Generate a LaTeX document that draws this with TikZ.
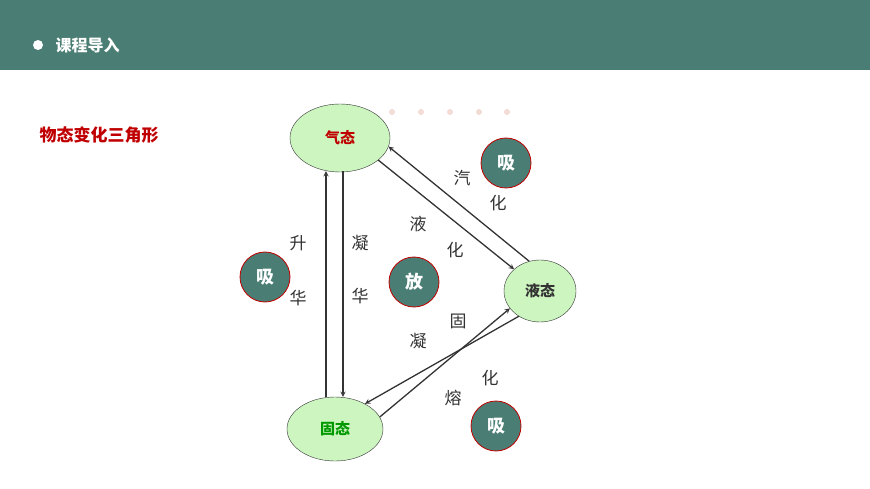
\documentclass[tikz,border=0pt]{standalone}
\usepackage{fontspec}
\setmainfont{Noto Sans CJK SC}
\newfontfamily\cjkbold[BoldFont=*]{Noto Sans CJK SC Bold}
\usetikzlibrary{shapes.geometric}
\definecolor{teal1}{HTML}{4A7D74}
\definecolor{darkred}{HTML}{C00000}
\definecolor{lightgreen}{HTML}{CCF5C0}
\definecolor{dotpink}{HTML}{F2DCD5}
\definecolor{txtgray}{HTML}{333333}
\tikzset{
  state/.style={ellipse, draw=txtgray, fill=lightgreen, font=\fontsize{15}{15}\selectfont\bfseries},
  heat/.style={circle, draw=darkred, thick, fill=teal1, text=white, minimum size=50pt, inner sep=0pt, font=\fontsize{18}{18}\selectfont\bfseries},
  word/.style={text=txtgray, font=\fontsize{17}{17}\selectfont},
  flow/.style={draw=txtgray, line width=1.3pt, -stealth}
}
\begin{document}
\begin{tikzpicture}[x=1pt,y=-1pt]
  \useasboundingbox (0,0) rectangle (870,489);
  \fill[teal1] (0,0) rectangle (870,70);
  \fill[white] (38,45) circle (5);
  \node[anchor=west, text=white, font=\fontsize{16}{16}\selectfont\bfseries] (head) at (52,45) {课程导入};
  \node[anchor=west, text=darkred, font=\fontsize{17}{17}\selectfont\bfseries] (title) at (36,135) {物态变化三角形};
  \foreach \x in {392,421,450,479,507}
    \fill[dotpink] (\x,112) circle (3);

  % three states
  \node[state, text=darkred, minimum width=100pt, minimum height=68pt] (gas) at (340,138) {气态};
  \node[state, text=txtgray, minimum width=72pt, minimum height=62pt] (liquid) at (540,291) {液态};
  \node[state, text=green!60!black, minimum width=96pt, minimum height=64pt] (solid) at (335,429) {固态};

  % arrows
  \draw[flow] ([xshift=-9pt]solid.north) -- ([xshift=-14pt,yshift=1pt]gas.south);
  \draw[flow] ([xshift=3pt,yshift=1pt]gas.south) -- ([xshift=8pt]solid.north);
  \draw[flow] (gas.-30) -- (liquid.140);
  \draw[flow] (liquid.110) -- (gas.-10);
  \draw[flow] (liquid.-130) -- (solid.40);
  \draw[flow] (solid.15) -- (liquid.-150);

  % labels
  \node[word] (s1) at (298,243) {升};
  \node[word] (s2) at (298,298) {华};
  \node[word] (n1) at (360,243) {凝};
  \node[word] (n2) at (360,296) {华};
  \node[word] (y1) at (418,224) {液};
  \node[word] (y2) at (455,250) {化};
  \node[word] (q1) at (462,178) {汽};
  \node[word] (q2) at (498,203) {化};
  \node[word] (g1) at (458,321) {固};
  \node[word] (g2) at (418,341) {凝};
  \node[word] (r1) at (490,378) {化};
  \node[word] (r2) at (453,398) {熔};

  % heat
  \node[heat] (h1) at (506,163) {吸};
  \node[heat] (h2) at (265,277) {吸};
  \node[heat] (h3) at (414,282) {放};
  \node[heat] (h4) at (496,426) {吸};
\end{tikzpicture}
\end{document}
